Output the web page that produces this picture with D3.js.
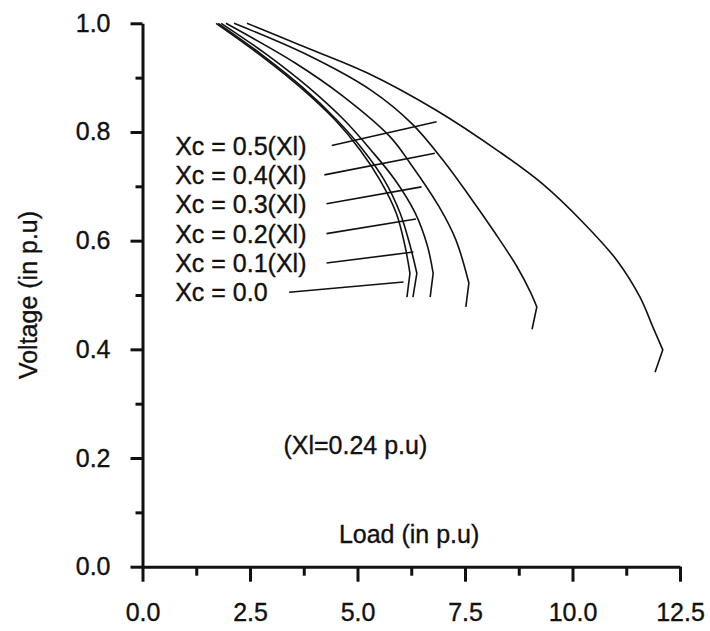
<!DOCTYPE html>
<html>
<head>
<meta charset="utf-8">
<script src="https://cdn.jsdelivr.net/npm/d3@7"></script>
<style>
  body { margin: 0; background: #fff; }
  text { font-family: "Liberation Sans", Arial, sans-serif; fill: #111; stroke: #111; stroke-width: 0.35; }
</style>
</head>
<body>
<script>
// tick values
const xTicks = [0, 2.5, 5, 7.5, 10, 12.5];
const xMinor = [1.25, 3.75, 6.25, 8.75, 11.25];
const yTicks = [0, 0.2, 0.4, 0.6, 0.8, 1.0];
const yMinor = [0.1, 0.3, 0.5, 0.7, 0.9];

// curves: load (p.u) and voltage (p.u)
const load00 = [1.71, 2.73, 3.66, 4.48, 5.06, 5.52, 5.90, 6.10, 6.22, 6.15];
const volt00 = [1.00, 0.942, 0.883, 0.822, 0.767, 0.712, 0.651, 0.592, 0.540, 0.496];
const load01 = [1.76, 2.78, 3.71, 4.52, 5.13, 5.62, 5.99, 6.22, 6.38, 6.29];
const volt01 = [1.00, 0.942, 0.883, 0.822, 0.767, 0.712, 0.651, 0.592, 0.540, 0.496];
const load02 = [1.83, 2.90, 3.85, 4.69, 5.31, 5.87, 6.34, 6.62, 6.76, 6.69];
const volt02 = [1.00, 0.942, 0.883, 0.822, 0.767, 0.712, 0.651, 0.592, 0.540, 0.496];
const load03 = [1.94, 3.55, 4.66, 5.76, 6.22, 6.90, 7.29, 7.59, 7.52];
const volt03 = [1.00, 0.927, 0.866, 0.791, 0.743, 0.662, 0.601, 0.522, 0.478];
const load04 = [2.13, 3.83, 5.31, 6.27, 6.99, 7.62, 8.20, 8.71, 9.03, 9.17, 9.06];
const volt04 = [1.00, 0.942, 0.877, 0.815, 0.748, 0.680, 0.614, 0.552, 0.504, 0.478, 0.437];
const load05 = [2.43, 3.66, 5.22, 6.83, 8.31, 9.31, 10.24, 11.03, 11.57, 11.87, 12.10, 11.92];
const volt05 = [1.00, 0.960, 0.909, 0.840, 0.763, 0.704, 0.634, 0.564, 0.496, 0.441, 0.399, 0.358];

// labels and their pointer lines (data units)
const labelText = ["Xc = 0.5(Xl)", "Xc = 0.4(Xl)", "Xc = 0.3(Xl)", "Xc = 0.2(Xl)", "Xc = 0.1(Xl)", "Xc = 0.0"];
const ptrFrom = [[4.40, 0.775], [4.23, 0.721], [4.28, 0.668], [4.28, 0.613], [4.28, 0.559], [3.41, 0.505]];
const ptrTo = [[6.84, 0.819], [6.80, 0.761], [6.49, 0.699], [6.36, 0.640], [6.30, 0.579], [6.07, 0.524]];

const curves = [
  [load00, volt00], [load01, volt01], [load02, volt02],
  [load03, volt03], [load04, volt04], [load05, volt05]
].map(([l, v]) => l.map((d, i) => [d, v[i]]));

const W = 710, H = 631;
const svg = d3.select("body").append("svg")
  .attr("width", W).attr("height", H);

svg.append("rect").attr("width", W).attr("height", H).attr("fill", "#fff");

const x = d3.scaleLinear().domain([0, 12.5]).range([142.5, 680]);
const y = d3.scaleLinear().domain([0, 1]).range([566.7, 23.3]);

// axes
const gx = svg.append("g").attr("transform", `translate(0,${y(0)})`);
gx.call(d3.axisBottom(x).tickValues(xTicks).tickSize(15).tickSizeOuter(0)
  .tickPadding(22).tickFormat(d3.format(".1f")));
gx.append("g").call(d3.axisBottom(x).tickValues(xMinor).tickSize(9).tickFormat(""))
  .select(".domain").remove();

const gy = svg.append("g").attr("transform", `translate(${x(0)},0)`);
gy.call(d3.axisLeft(y).tickValues(yTicks).tickSize(12).tickSizeOuter(0)
  .tickPadding(20).tickFormat(d3.format(".1f")));
gy.append("g").call(d3.axisLeft(y).tickValues(yMinor).tickSize(7).tickFormat(""))
  .select(".domain").remove();

svg.selectAll(".domain, .tick line")
  .attr("stroke", "#111").attr("stroke-width", 3);
svg.selectAll(".tick text")
  .attr("font-size", 25).attr("font-family", "Liberation Sans, Arial, sans-serif")
  .attr("fill", "#111");

// curves: smooth upper branch, sharp turn at the nose
const line = d3.line().x(d => x(d[0])).y(d => y(d[1])).curve(d3.curveCatmullRom.alpha(0.5));
svg.append("g").selectAll("path")
  .data(curves)
  .join("path")
  .attr("d", d => {
    const last = d[d.length - 1];
    return line(d.slice(0, -1)) + `L${x(last[0])},${y(last[1])}`;
  })
  .attr("fill", "none")
  .attr("stroke", "#111")
  .attr("stroke-width", 1.6);

// pointer lines
svg.append("g").selectAll("line")
  .data(labelText)
  .join("line")
  .attr("x1", (d, i) => x(ptrFrom[i][0]))
  .attr("y1", (d, i) => y(ptrFrom[i][1]))
  .attr("x2", (d, i) => x(ptrTo[i][0]))
  .attr("y2", (d, i) => y(ptrTo[i][1]))
  .attr("stroke", "#111")
  .attr("stroke-width", 1.6);

// labels
svg.append("g").selectAll("text")
  .data(labelText)
  .join("text")
  .attr("x", x(0.76))
  .attr("y", (d, i) => y(ptrFrom[i][1]))
  .attr("dy", "0.36em")
  .attr("font-size", 25)
  .text(d => d);

svg.append("text")
  .attr("x", x(4.95)).attr("y", y(0.224))
  .attr("dy", "0.36em")
  .attr("text-anchor", "middle")
  .attr("font-size", 25)
  .text("(Xl=0.24 p.u)");

svg.append("text")
  .attr("x", x(6.2)).attr("y", y(0.06))
  .attr("dy", "0.36em")
  .attr("text-anchor", "middle")
  .attr("font-size", 25)
  .text("Load (in p.u)");

svg.append("text")
  .attr("transform", `translate(28,${y(0.5)}) rotate(-90)`)
  .attr("dy", "0.36em")
  .attr("text-anchor", "middle")
  .attr("font-size", 25)
  .text("Voltage (in p.u)");
</script>
</body>
</html>
